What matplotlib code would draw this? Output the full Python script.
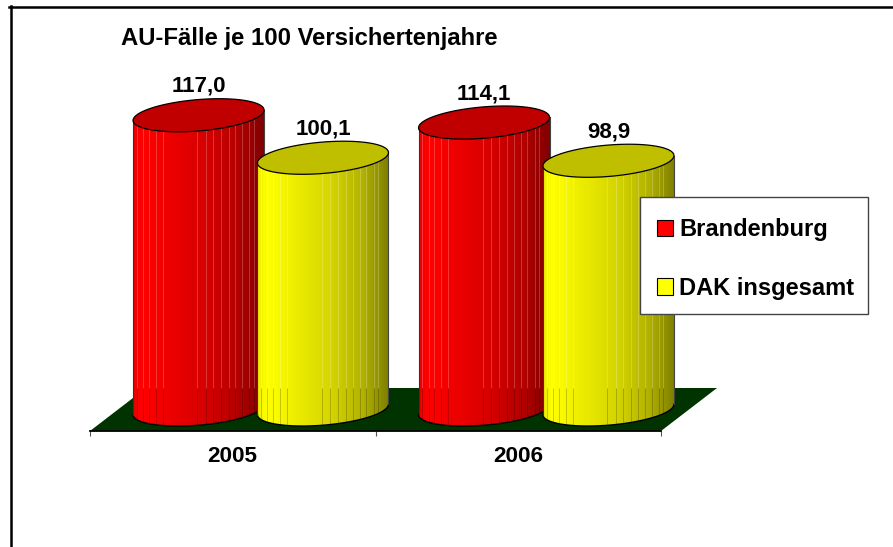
import numpy as np
import matplotlib
matplotlib.use('Agg')
import matplotlib.pyplot as plt
from matplotlib.lines import Line2D
from matplotlib.patches import Patch, Polygon, Rectangle

years = ['2005', '2006']
brandenburg = [117.0, 114.1]
dak = [100.1, 98.9]
labels_de = ['117,0', '100,1', '114,1', '98,9']
serie_noms = ['Brandenburg', 'DAK insgesamt']

plt.rcParams['font.family'] = ['Liberation Sans', 'DejaVu Sans']
plt.rcParams['font.weight'] = 'bold'

W, H = 893, 547
fig = plt.figure(figsize=(W / 100, H / 100), dpi=100, facecolor='white')

# axe : bas = bord avant du sol (y=431), 285.5 px par categorie, 2.515 px par unite
px_x = 285.5
px_y = 2.515
ax = fig.add_axes([90 / W, (H - 431) / H, 571 / W, 371 / H])
ax.set_xlim(-0.5, 1.5)
ax.set_ylim(-21.5 / px_y, (371 - 21.5) / px_y)
ax.patch.set_visible(False)
for s in ['top', 'left', 'right']:
    ax.spines[s].set_visible(False)
ax.spines['bottom'].set_linewidth(1.3)
ax.spines['bottom'].set_color('black')
ax.spines['bottom'].set_zorder(12)
ax.set_yticks([])
ax.set_xticks([-0.5, 0.5, 1.5])
ax.set_xticklabels([])
ax.tick_params(axis='x', length=3.6, width=0.8, color='#555555')
ax.set_xticks([0, 1], minor=True)
ax.set_xticklabels(years, minor=True, fontsize=16.2, fontweight='bold')
ax.tick_params(axis='x', which='minor', length=0, pad=11)

# sol en vert fonce (parallelogramme)
y_front = -21.5 / px_y
y_back = 21.5 / px_y
depth = 56 / px_x
ax.add_patch(Polygon([(-0.5, y_front), (1.5, y_front), (1.5 + depth, y_back), (-0.5 + depth, y_back)],
                     closed=True, facecolor='#003300', edgecolor='none', clip_on=False, zorder=1))

hw = 65.5 / px_x
tilt = 5.2 / px_y
minor = 15.7 / px_y
shift = 28 / px_x
ecart = 62.2 / px_x
stries = [.03, .076, .119, .175, .228, .49, .554, .612, .673, .729, .78, .83, .886, .92]
stops = [0, .07, .25, .55, .8, 1]
lum = [.92, 1, .94, .84, .70, .50]


def ellipse(cx, cy, t):
    return cx + hw * np.cos(t), cy + tilt * np.cos(t) + minor * np.sin(t)


def cylindre(cx, val, rgb, top, z):
    t_bas = np.linspace(np.pi, 2 * np.pi, 80)
    xb, yb = ellipse(cx, 0, t_bas)
    xh, yh = ellipse(cx, val, t_bas)
    corps = Polygon(np.vstack([np.c_[xb, yb], np.c_[xh, yh][::-1]]), closed=True,
                    facecolor='none', edgecolor='none', zorder=z, clip_on=False)
    ax.add_patch(corps)

    # degrade horizontal clippe sur le corps du cylindre
    bords = np.linspace(cx - hw, cx + hw, 66)
    f = (bords[:-1] + bords[1:] - 2 * (cx - hw)) / (4 * hw)
    g = np.interp(f, stops, lum)
    img = np.outer(g, rgb)[None, :, :]
    m = ax.pcolormesh(bords, [yb.min(), yh.max() + 1], img, shading='flat', zorder=z, antialiased=False)
    m.set_clip_box(None)
    m.set_clip_path(corps)

    # stries : claires au-dessus du fond du sol, foncees en dessous
    for fr in stries:
        xs = cx - hw + 2 * hw * fr
        l1 = ax.plot([xs, xs], [y_back, val], color='white', alpha=0.22, lw=0.7, zorder=z, solid_capstyle='butt')[0]
        l2 = ax.plot([xs, xs], [yb.min(), y_back], color='black', alpha=0.2, lw=0.7, zorder=z, solid_capstyle='butt')[0]
        for l in (l1, l2):
            l.set_clip_box(None)
            l.set_clip_path(corps)

    ax.plot(xb, yb, color='black', lw=1.0, zorder=z, clip_on=False)
    ax.plot([xb[0], xh[0]], [yb[0], yh[0]], color='#333333', lw=0.8, zorder=z, clip_on=False)
    ax.plot([xb[-1], xh[-1]], [yb[-1], yh[-1]], color='#444444', lw=0.8, zorder=z, clip_on=False)

    t = np.linspace(0, 2 * np.pi, 160)
    xt, yt = ellipse(cx, val, t)
    ax.add_patch(Polygon(np.c_[xt, yt], closed=True, facecolor=top, edgecolor='black', lw=0.9,
                         zorder=z, clip_on=False))


k = 0
for i in range(len(years)):
    c0 = i + shift - ecart
    c1 = i + shift + ecart
    cylindre(c0, brandenburg[i], (1, 0, 0), '#C00000', 3 + 2 * i)
    cylindre(c1, dak[i], (1, 1, 0), '#BFBF00', 4 + 2 * i)
    for cx, val in [(c0, brandenburg[i]), (c1, dak[i])]:
        ax.annotate(labels_de[k], (cx, val), xytext=(0, 29 * 0.72), textcoords='offset points',
                    ha='center', va='center', fontsize=16, fontweight='bold', color='black', zorder=10)
        k += 1

ax.set_xlim(-0.5, 1.5)
ax.set_ylim(-21.5 / px_y, (371 - 21.5) / px_y)

# cadre de legende a part, pour caler le texte et la boite separement
ax.add_patch(Rectangle((639.5 / W, 1 - 314 / H), 228.5 / W, 117 / H, transform=fig.transFigure,
                       facecolor='white', edgecolor='#444444', lw=1.0, clip_on=False, zorder=19))
handles = [Patch(facecolor='#FF0000', edgecolor='black', lw=0.8),
           Patch(facecolor='#FFFF00', edgecolor='black', lw=0.8)]
leg = ax.legend(handles, serie_noms, loc='upper left', bbox_to_anchor=(657 / W, 1 - 218.4 / H),
                bbox_transform=fig.transFigure, fontsize=17, frameon=False, borderaxespad=0,
                borderpad=0, labelspacing=1.5, handlelength=0.68, handleheight=0.68,
                handletextpad=0.25)
leg.set_zorder(20)

fig.text(121 / W, 1 - 38 / H, 'AU-Fälle je 100 Versichertenjahre', fontsize=17.2, fontweight='bold',
         ha='left', va='center', color='black')

# cadre coupe : haut et gauche seulement
fig.add_artist(Line2D([9 / W, 1], [1 - 6.5 / H, 1 - 6.5 / H], color='black', lw=1.8))
fig.add_artist(Line2D([11 / W, 11 / W], [1 - 6 / H, 0], color='black', lw=1.8))

fig.savefig('out.png', dpi=100)
